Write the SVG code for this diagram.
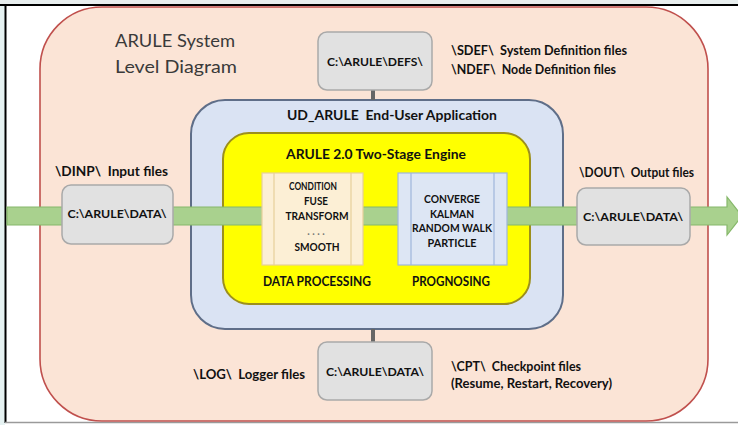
<svg xmlns="http://www.w3.org/2000/svg" width="738" height="425" viewBox="0 0 738 425">
  <style>
    text { font-family: Lato, "Liberation Sans", sans-serif; fill: #111111; white-space: pre; }
    .lab { font-size: 12.5px; font-weight: bold; }
    .box { fill: #e1e1e1; stroke: #a9a9a9; stroke-width: 1.5; }
    .boxt { font-size: 11.5px; font-weight: bold; text-anchor: middle; }
    .pt { font-size: 10.5px; font-weight: bold; text-anchor: middle; }
    .title { font-size: 13px; font-weight: bold; text-anchor: middle; }
    .big { font-size: 18px; fill: #3a3a3a; }
  </style>
  <rect x="0" y="0" width="738" height="425" fill="#ffffff"/>
  <rect x="0" y="0" width="5" height="425" fill="#e6f2f2"/>
  <rect x="0" y="0" width="738" height="4" fill="#e8eeee"/>
  <line x1="0" y1="5" x2="738" y2="5" stroke="#000" stroke-width="2"/>
  <line x1="5.5" y1="4" x2="5.5" y2="423" stroke="#000" stroke-width="2"/>
  <line x1="5" y1="422.5" x2="738" y2="422.5" stroke="#9a9a9a" stroke-width="1.5"/>

  <g id="system">
    <rect x="40" y="7" width="668" height="414" rx="62" ry="62" fill="#fbe4d6" stroke="#c0504d" stroke-width="1.6"/>
    <text class="big" x="115" y="47" textLength="120" lengthAdjust="spacingAndGlyphs">ARULE System</text>
    <text class="big" x="115" y="73" textLength="122" lengthAdjust="spacingAndGlyphs">Level Diagram</text>
  </g>

  <g id="app">
    <rect x="191" y="100" width="372" height="229" rx="34" ry="34" fill="#dae3f3" stroke="#5f6e88" stroke-width="2"/>
    <text class="title" x="392" y="120" textLength="210" lengthAdjust="spacingAndGlyphs">UD_ARULE  End-User Application</text>
  </g>

  <g id="engine">
    <rect x="223" y="133" width="307" height="171" rx="26" ry="26" fill="#ffff00" stroke="#9c8f1c" stroke-width="2"/>
    <text class="title" x="376" y="159" textLength="180" lengthAdjust="spacingAndGlyphs">ARULE 2.0 Two-Stage Engine</text>
    <text class="lab" x="317" y="286" text-anchor="middle" font-size="11.5" textLength="108" lengthAdjust="spacingAndGlyphs">DATA PROCESSING</text>
    <text class="lab" x="451" y="286" text-anchor="middle" font-size="11.5" textLength="78" lengthAdjust="spacingAndGlyphs">PROGNOSING</text>
  </g>

  <g id="connectors">
    <path d="M7,207 H727 V197 L742,216 L727,235 V225 H7 Z" fill="#a9d18e" stroke="#86b86a" stroke-width="1.2"/>
    <rect x="371" y="90" width="4" height="10" fill="#666"/>
    <rect x="371" y="329" width="4" height="13" fill="#666"/>
  </g>

  <g id="data-processing">
    <rect x="262" y="173" width="101" height="92" fill="#fcefd5" stroke="#e6cf9a" stroke-width="1.2"/>
    <line x1="274" y1="173" x2="274" y2="265" stroke="#e6cf9a" stroke-width="1.2"/>
    <line x1="351" y1="173" x2="351" y2="265" stroke="#e6cf9a" stroke-width="1.2"/>
    <text class="pt" x="313" y="190" textLength="48" lengthAdjust="spacingAndGlyphs">CONDITION</text>
    <text class="pt" x="316" y="205" textLength="24" lengthAdjust="spacingAndGlyphs">FUSE</text>
    <text class="pt" x="317" y="220" textLength="63" lengthAdjust="spacingAndGlyphs">TRANSFORM</text>
    <text class="pt" x="316" y="235" style="fill:#777777">. . . .</text>
    <text class="pt" x="317" y="251" textLength="45" lengthAdjust="spacingAndGlyphs">SMOOTH</text>
  </g>

  <g id="prognosing">
    <rect x="398" y="173" width="109" height="92" fill="#dde6f4" stroke="#9fb6db" stroke-width="1.2"/>
    <line x1="411" y1="173" x2="411" y2="265" stroke="#9fb6db" stroke-width="1.2"/>
    <line x1="494" y1="173" x2="494" y2="265" stroke="#9fb6db" stroke-width="1.2"/>
    <text class="pt" x="452" y="203" textLength="56" lengthAdjust="spacingAndGlyphs">CONVERGE</text>
    <text class="pt" x="452" y="218" textLength="44" lengthAdjust="spacingAndGlyphs">KALMAN</text>
    <text class="pt" x="452" y="232" textLength="80" lengthAdjust="spacingAndGlyphs">RANDOM WALK</text>
    <text class="pt" x="452" y="247" textLength="49" lengthAdjust="spacingAndGlyphs">PARTICLE</text>
  </g>

  <g id="defs-dir">
    <rect class="box" x="318" y="32" width="114" height="58" rx="9" ry="9"/>
    <text class="boxt" x="375" y="66" textLength="96" lengthAdjust="spacingAndGlyphs">C:\ARULE\DEFS\</text>
  </g>

  <g id="input-dir">
    <rect class="box" x="62" y="185" width="111" height="59" rx="9" ry="9"/>
    <text class="boxt" x="117" y="218" textLength="99" lengthAdjust="spacingAndGlyphs">C:\ARULE\DATA\</text>
  </g>

  <g id="output-dir">
    <rect class="box" x="577" y="188" width="113" height="57" rx="9" ry="9"/>
    <text class="boxt" x="633" y="221" textLength="100" lengthAdjust="spacingAndGlyphs">C:\ARULE\DATA\</text>
  </g>

  <g id="log-dir">
    <rect class="box" x="318" y="342" width="114" height="58" rx="9" ry="9"/>
    <text class="boxt" x="375" y="376" textLength="98" lengthAdjust="spacingAndGlyphs">C:\ARULE\DATA\</text>
  </g>

  <g id="labels">
    <text class="lab" x="451" y="55" textLength="176" lengthAdjust="spacingAndGlyphs">\SDEF\  System Definition files</text>
    <text class="lab" x="451" y="74" textLength="165" lengthAdjust="spacingAndGlyphs">\NDEF\  Node Definition files</text>
    <text class="lab" x="55" y="176" textLength="113" lengthAdjust="spacingAndGlyphs">\DINP\  Input files</text>
    <text class="lab" x="579" y="177" textLength="115" lengthAdjust="spacingAndGlyphs">\DOUT\  Output files</text>
    <text class="lab" x="193" y="379" textLength="112" lengthAdjust="spacingAndGlyphs">\LOG\  Logger files</text>
    <text class="lab" x="451" y="371" textLength="130" lengthAdjust="spacingAndGlyphs">\CPT\  Checkpoint files</text>
    <text class="lab" x="451" y="388" textLength="161" lengthAdjust="spacingAndGlyphs">(Resume, Restart, Recovery)</text>
  </g>
</svg>
